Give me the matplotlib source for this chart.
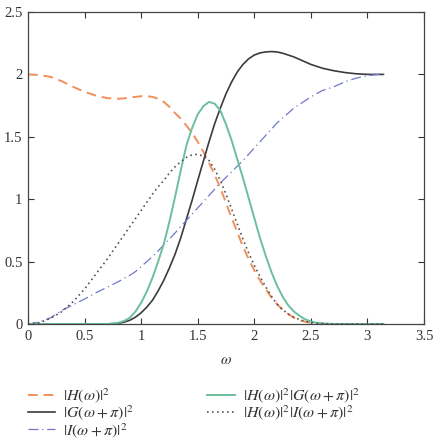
import numpy as np
import matplotlib
matplotlib.use("Agg")
import matplotlib.pyplot as plt

plt.rcParams['font.family'] = ['Liberation Serif', 'DejaVu Serif']
plt.rcParams['mathtext.fontset'] = 'stix'

# values (finer steps where the curves bend; last point = pi)
omega = [0.0, 0.1, 0.2, 0.3, 0.4, 0.5, 0.6, 0.7, 0.8,
         0.85, 0.9, 0.95, 1.0, 1.05, 1.1, 1.15, 1.2, 1.25, 1.3, 1.35, 1.4, 1.45, 1.5,
         1.55, 1.6, 1.65, 1.7, 1.75, 1.8, 1.85, 1.9, 1.95, 2.0, 2.05, 2.1, 2.15, 2.2,
         2.25, 2.3, 2.35, 2.4, 2.45, 2.5, 2.55, 2.6,
         2.7, 2.8, 2.9, 3.0, 3.1, 3.1416]

H2 = [2.0, 1.995, 1.98, 1.945, 1.90, 1.86, 1.83, 1.81, 1.805,
      1.808, 1.815, 1.82, 1.825, 1.825, 1.82, 1.805, 1.78, 1.74, 1.69, 1.645, 1.59, 1.53, 1.46,
      1.38, 1.29, 1.195, 1.09, 0.97, 0.85, 0.735, 0.62, 0.52, 0.43, 0.35, 0.28, 0.215, 0.16,
      0.115, 0.08, 0.05, 0.03, 0.018, 0.01, 0.006, 0.003,
      0.0, 0.0, 0.0, 0.0, 0.0, 0.0]
G2 = [0.0, 0.0, 0.0, 0.0, 0.0, 0.0, 0.0, 0.0, 0.005,
      0.015, 0.03, 0.055, 0.09, 0.135, 0.19, 0.265, 0.35, 0.45, 0.56, 0.69, 0.84, 0.99, 1.15,
      1.305, 1.46, 1.605, 1.73, 1.845, 1.94, 2.02, 2.08, 2.125, 2.155, 2.172, 2.18, 2.183, 2.18,
      2.17, 2.155, 2.14, 2.12, 2.10, 2.08, 2.065, 2.05,
      2.03, 2.015, 2.005, 2.0, 2.0, 2.0]
I2 = [0.0, 0.015, 0.05, 0.11, 0.155, 0.20, 0.25, 0.295, 0.34,
      0.365, 0.39, 0.42, 0.46, 0.50, 0.54, 0.585, 0.635, 0.68, 0.73, 0.78, 0.83, 0.88, 0.93,
      0.98, 1.03, 1.08, 1.13, 1.175, 1.22, 1.265, 1.31, 1.36, 1.41, 1.46, 1.51, 1.56, 1.61,
      1.65, 1.69, 1.73, 1.76, 1.79, 1.82, 1.845, 1.87,
      1.90, 1.94, 1.97, 1.99, 2.0, 2.0]
HG = [0.0, 0.0, 0.0, 0.0, 0.0, 0.0, 0.0, 0.0, 0.01,
      0.025, 0.05, 0.10, 0.17, 0.26, 0.37, 0.50, 0.64, 0.82, 1.02, 1.23, 1.43, 1.57, 1.68,
      1.745, 1.78, 1.765, 1.71, 1.60, 1.47, 1.32, 1.17, 1.01, 0.85, 0.69, 0.55, 0.42, 0.31,
      0.22, 0.15, 0.10, 0.065, 0.038, 0.02, 0.01, 0.005,
      0.0, 0.0, 0.0, 0.0, 0.0, 0.0]
HI = [0.0, 0.01, 0.045, 0.10, 0.18, 0.28, 0.40, 0.52, 0.65,
      0.715, 0.78, 0.845, 0.91, 0.975, 1.04, 1.10, 1.15, 1.21, 1.26, 1.30, 1.335, 1.355, 1.36,
      1.345, 1.31, 1.24, 1.15, 1.04, 0.92, 0.80, 0.68, 0.57, 0.47, 0.38, 0.30, 0.225, 0.16,
      0.115, 0.08, 0.055, 0.035, 0.02, 0.012, 0.006, 0.003,
      0.0, 0.0, 0.0, 0.0, 0.0, 0.0]

labels = [r'$|H(\omega)|^2$', r'$|G(\omega+\pi)|^2$', r'$|I(\omega+\pi)|^2$',
          r'$|H(\omega)|^2|G(\omega+\pi)|^2$', r'$|H(\omega)|^2|I(\omega+\pi)|^2$']

fig = plt.figure(figsize=(4.35, 4.43), dpi=100)
ax = fig.add_axes([28/435, 1-324/443, 396/435, 312/443])

ax.plot(omega, H2, color='#f0905c', lw=1.4, ls=(0, (5, 3)), label=labels[0])
ax.plot(omega, G2, color='#3c3c3c', lw=1.2, ls='-', label=labels[1])
ax.plot(omega, I2, color='#7078cc', lw=0.9, ls=(0, (8, 3, 1, 3)), label=labels[2])
ax.plot(omega, HG, color='#6cbf9c', lw=1.4, ls='-', label=labels[3])
ax.plot(omega, HI, color='#555555', lw=1.2, ls=(0, (1, 2)), label=labels[4])

ax.set_xlim(0, 3.5)
ax.set_ylim(0, 2.5)
ax.set_xticks([0, 0.5, 1, 1.5, 2, 2.5, 3, 3.5])
ax.set_xticklabels(['0', '0.5', '1', '1.5', '2', '2.5', '3', '3.5'])
ax.set_yticks([0, 0.5, 1, 1.5, 2, 2.5])
ax.set_yticklabels(['0', '0.5', '1', '1.5', '2', '2.5'])
ax.tick_params(direction='in', top=True, right=True, length=4, width=0.8,
               labelsize=10.5, colors='#333333', pad=4)
for s in ax.spines.values():
    s.set_color('#444444')
    s.set_linewidth(0.9)
ax.set_xlabel(r'$\omega$', fontsize=11, color='#333333', labelpad=8)

h, l = ax.get_legend_handles_labels()
fig.legend(h, l, loc='upper left', bbox_to_anchor=(28/435, 1-386/443), ncol=2,
           frameon=False, fontsize=11.5, handlelength=1.7, handletextpad=0.5,
           columnspacing=4.6, labelspacing=-0.1, borderpad=0, borderaxespad=0,
           labelcolor='#333333')

fig.savefig('out.png', dpi=100)
